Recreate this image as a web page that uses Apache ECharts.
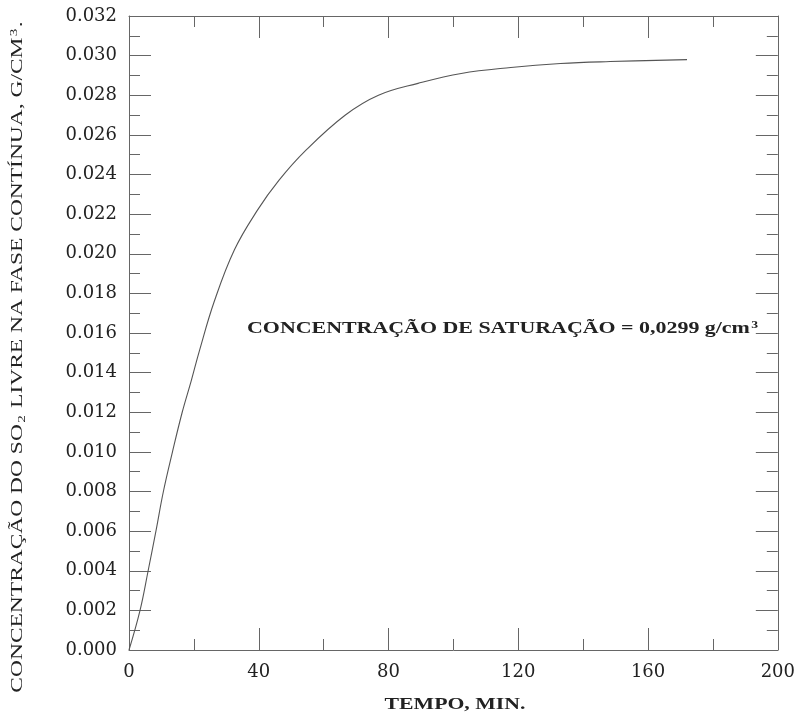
<!DOCTYPE html>
<html>
<head>
<meta charset="utf-8">
<script src="https://cdn.jsdelivr.net/npm/echarts@6/dist/echarts.min.js"></script>
<style>html,body{margin:0;padding:0;background:#fff}#c{width:798px;height:718px}</style>
</head>
<body>
<div id="c"></div>
<script>
// Data
var tempoMin = [0, 3.4, 5.9, 8.3, 10.6, 13.4, 16.4, 19.2, 21.7, 26.3, 32.5, 39.6, 46.2, 54.4, 66.7, 76.9, 89.1, 102.4, 117.7, 133, 148.3, 172];
var concentracao = [0, 0.002, 0.004, 0.006, 0.008, 0.010, 0.012, 0.0136, 0.0151, 0.0176, 0.0202, 0.0222, 0.0237, 0.0252, 0.0270, 0.0280, 0.0286, 0.0291, 0.0294, 0.0296, 0.0297, 0.0298];
var xTicks = [0, 40, 80, 120, 160, 200];
var yTicks = [0.000, 0.002, 0.004, 0.006, 0.008, 0.010, 0.012, 0.014, 0.016, 0.018, 0.020, 0.022, 0.024, 0.026, 0.028, 0.030, 0.032];
var xTitle = 'TEMPO, MIN.';
var yTitleParts = ['CONCENTRAÇÃO DO SO', '2', ' LIVRE NA FASE CONTÍNUA, G/CM', '3', '.'];
var annotationText = 'CONCENTRAÇÃO DE SATURAÇÃO = 0,0299 g/cm';
var annotationSup = '3';

var FONT = '"Liberation Serif", "DejaVu Serif", serif';
var TICKFONT = '"DejaVu Serif", serif';
var AX = '#666';
var chart = echarts.init(document.getElementById('c'), null, {renderer: 'canvas'});
var pts = tempoMin.map(function (t, i) { return [t, concentracao[i]]; });

function xAx(pos, show) {
  return {
    type: 'value', position: pos, min: xTicks[0], max: xTicks[xTicks.length - 1], interval: xTicks[1] - xTicks[0],
    axisLine: {show: true, onZero: false, lineStyle: {color: AX, width: 1}},
    axisTick: {show: true, inside: true, length: 22, lineStyle: {color: AX}},
    minorTick: {show: true, splitNumber: 2, length: 11, lineStyle: {color: AX}},
    splitLine: {show: false},
    axisLabel: {show: show, margin: 13, fontFamily: TICKFONT, fontSize: 18, color: '#222'}
  };
}
function yAx(pos, show) {
  return {
    type: 'value', position: pos, min: yTicks[0], max: yTicks[yTicks.length - 1], interval: yTicks[1] - yTicks[0],
    axisLine: {show: true, onZero: false, lineStyle: {color: AX, width: 1}},
    axisTick: {show: true, inside: true, length: 22, lineStyle: {color: AX}},
    minorTick: {show: true, splitNumber: 2, length: 11, lineStyle: {color: AX}},
    splitLine: {show: false},
    axisLabel: {show: show, margin: 12, fontFamily: TICKFONT, fontSize: 18, color: '#222',
      formatter: function (v) { return v.toFixed(3); }}
  };
}

chart.setOption({
  animation: false,
  backgroundColor: '#fff',
  grid: {left: 129, right: 16, top: 16, bottom: 68, containLabel: false},
  xAxis: [xAx('bottom', true), xAx('top', false)],
  yAxis: [yAx('left', true), yAx('right', false)],
  series: [{
    type: 'line', xAxisIndex: 0, yAxisIndex: 0, data: pts, smooth: 0.4,
    showSymbol: false, lineStyle: {color: '#555', width: 1.1}
  }],
  graphic: [
    {type: 'text', x: 455, y: 705, scaleX: 1.36, style: {
      text: xTitle, fontFamily: FONT, fontSize: 16, fontWeight: 'bold', fill: '#222',
      align: 'center', verticalAlign: 'middle'}},
    {type: 'text', x: 247, y: 329, scaleX: 1.37, style: {
      text: annotationText + '{sup|' + annotationSup + '}', fontFamily: FONT, fontSize: 16, fontWeight: 'bold', fill: '#222',
      verticalAlign: 'middle', align: 'left',
      rich: {sup: {fontSize: 10, fontWeight: 'bold', fontFamily: FONT, padding: [0, 0, 8, 1], fill: '#222'}}}},
    {type: 'text', x: 18, y: 357, rotation: Math.PI / 2, scaleX: 1.38, style: {
      text: yTitleParts[0] + '{sub|' + yTitleParts[1] + '}' + yTitleParts[2] + '{sup|' + yTitleParts[3] + '}' + yTitleParts[4],
      fontFamily: FONT, fontSize: 17, fill: '#222', align: 'center', verticalAlign: 'middle',
      rich: {
        sub: {fontSize: 11, fontFamily: FONT, padding: [8, 1, 0, 1], fill: '#222'},
        sup: {fontSize: 11, fontFamily: FONT, padding: [0, 1, 8, 1], fill: '#222'}
      }}}
  ]
});
</script>
</body>
</html>
